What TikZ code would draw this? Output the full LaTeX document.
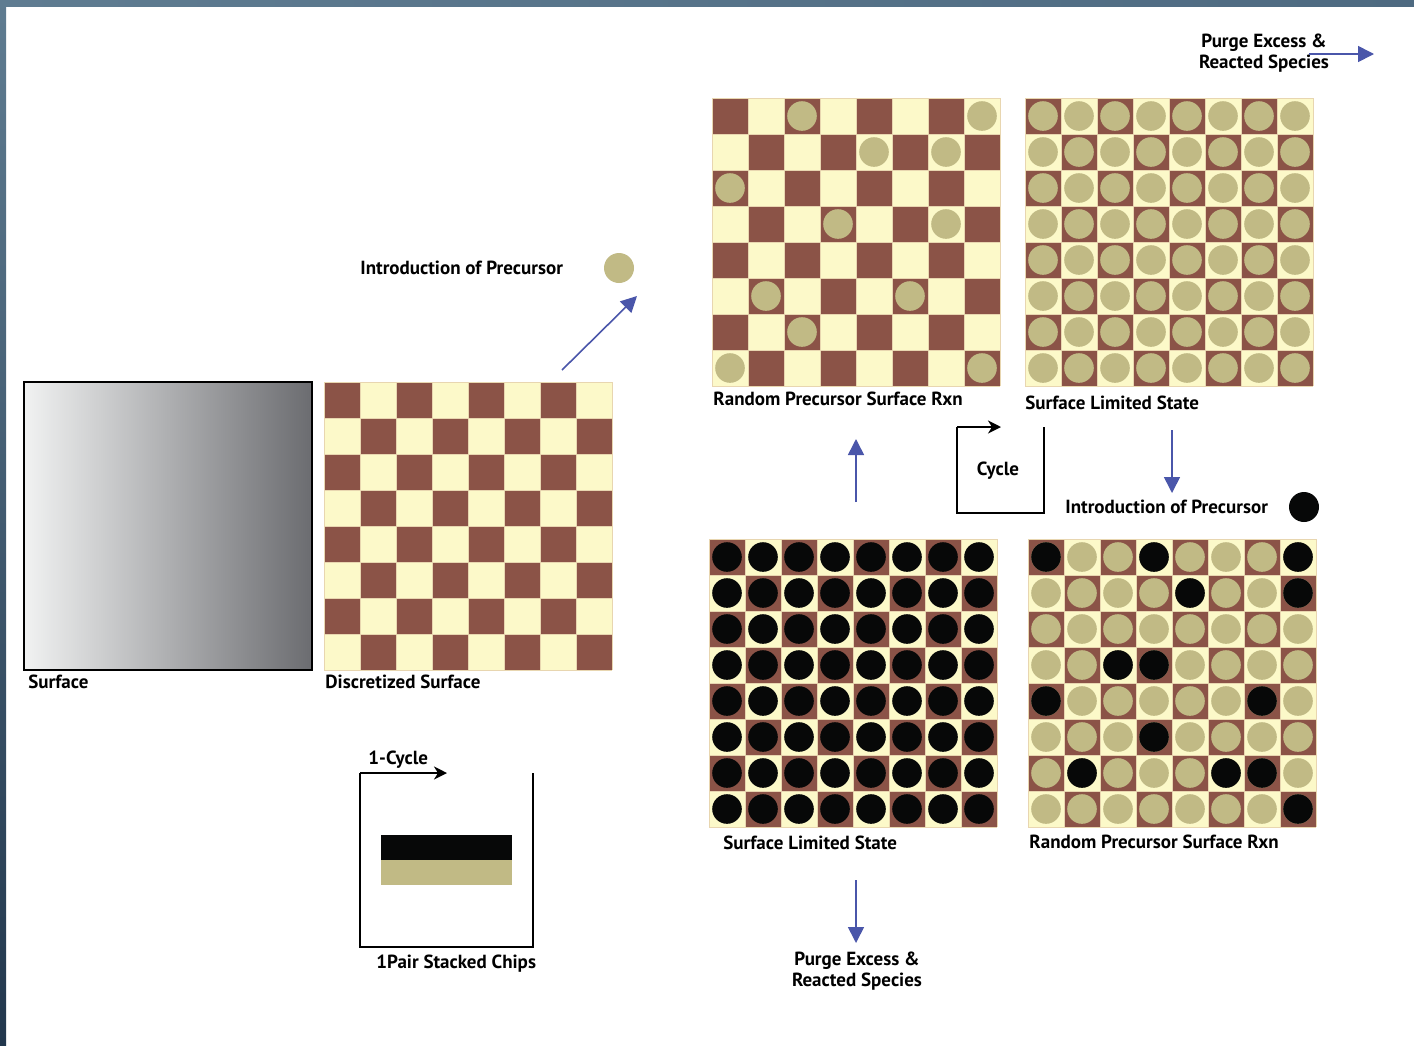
\documentclass[tikz,border=0pt]{standalone}
\usepackage{fontspec}
\setmainfont{PT Sans}
\usetikzlibrary{arrows.meta}
\definecolor{brownc}{HTML}{8B5347}
\definecolor{creamc}{HTML}{FCF9C9}
\definecolor{tanc}{HTML}{C1BA85}
\definecolor{blackc}{HTML}{070808}
\definecolor{arrowc}{HTML}{4A56AA}
\definecolor{gridline}{HTML}{E8D6B0}
\definecolor{frameA}{HTML}{5F7C91}
\definecolor{frameB}{HTML}{4E6A81}
\definecolor{frameC}{HTML}{22374D}
\definecolor{surfL}{HTML}{F1F2F2}
\definecolor{surfR}{HTML}{6B6C70}
\newcommand\boardcells[2]{%
  \foreach \r in {0,...,7}{\foreach \c in {0,...,7}{%
    \pgfmathtruncatemacro\s{\r+\c}%
    \ifodd\s\def\cc{creamc}\else\def\cc{brownc}\fi
    \fill[\cc] ({#1+36*\c},{#2+36*\r}) rectangle ++(36,36);
  }}%
  \foreach \k in {0,...,8}{%
    \draw[gridline,line width=0.35pt] ({#1+36*\k},#2) -- ({#1+36*\k},{#2+288});
    \draw[gridline,line width=0.35pt] (#1,{#2+36*\k}) -- ({#1+288},{#2+36*\k});
  }}
\newcommand\fullchips[3]{%
  \foreach \r in {0,...,7}{\foreach \c in {0,...,7}{%
    \fill[#3] ({#1+36*\c+18},{#2+36*\r+18}) circle[radius=14.8];
  }}}
\newcommand\somechips[4]{%
  \foreach \r/\c in {#4}{%
    \fill[#3] ({#1+36*\c+18},{#2+36*\r+18}) circle[radius=14.8];
  }}
\begin{document}
\begin{tikzpicture}[x=0.5pt,y=-0.5pt,
  lab/.style={font=\bfseries\fontsize{9.5}{10.5}\selectfont,inner sep=0pt,text=black},
  boardbox/.style={minimum width=144pt,minimum height=144pt,inner sep=0pt,anchor=north west},
  bluearrow/.style={arrowc,line width=0.8pt,-{Triangle[length=8pt,width=8pt]}},
  cyclearrow/.style={black,line width=1pt,-{Stealth[length=6.5pt,width=6.5pt,inset=2pt]}},
  cycleline/.style={black,line width=1pt}]
\useasboundingbox (0,0) rectangle (1414,1045);
\fill[white] (0,0) rectangle (1414,1045);
% frame
\shade[left color=frameA,right color=frameB] (0,0) rectangle (1414,6);
\shade[top color=frameA,bottom color=frameC] (0,0) rectangle (6,1045);

% Surface
\node[boardbox] (surf) at (24,382) {};
\shade[left color=surfL,right color=surfR] (24,382) rectangle (312,670);
\draw[black,line width=1pt] (24,382) rectangle (312,670);
\node[lab,anchor=base west] (surflab) at (28,688) {Surface};

% Discretized surface
\node[boardbox] (disc) at (324,382) {};
\boardcells{324}{382}
\node[lab,anchor=base west] (disclab) at (325,688) {Discretized Surface};

% Introduction of precursor (tan)
\node[lab,anchor=base west] (intro1) at (360,274) {Introduction of Precursor};
\node[circle,fill=tanc,minimum size=15pt,inner sep=0pt] (tandot) at (619,268) {};
\coordinate (d1s) at (562,370);
\coordinate (d1e) at (637,296);
\draw[bluearrow] (d1s) -- (d1e);

% Random precursor (top)
\node[boardbox] (rand1) at (712,98) {};
\boardcells{712}{98}
\somechips{712}{98}{tanc}{0/2,0/7,1/4,1/6,2/0,3/3,3/6,5/1,5/5,6/2,7/0,7/7}
\node[lab,anchor=base west] (rand1lab) at (713,405) {Random Precursor Surface Rxn};

% Surface limited (top right)
\node[boardbox] (lim1) at (1025,98) {};
\boardcells{1025}{98}
\fullchips{1025}{98}{tanc}
\node[lab,anchor=base west] (lim1lab) at (1025,409) {Surface Limited State};

% Purge top
\node[lab,align=center,anchor=center] (purge1) at (1264,53) {Purge Excess \&\\Reacted Species};
\coordinate (p1s) at (1309,54);
\coordinate (p1e) at (1374,54);
\draw[bluearrow] (p1s) -- (p1e);

% Cycle box
\coordinate (cyA) at (1044,427);
\coordinate (cyB) at (1044,513);
\coordinate (cyC) at (957,513);
\coordinate (cyD) at (957,427);
\coordinate (cyE) at (1001,427);
\draw[cycleline] (cyA) -- (cyB) -- (cyC) -- (cyD);
\draw[cyclearrow] (cyD) -- (cyE);
\node[lab,anchor=center] (cyclelab) at (998,471) {Cycle};

% Down arrow right
\coordinate (d2s) at (1172,430);
\coordinate (d2e) at (1172,493);
\draw[bluearrow] (d2s) -- (d2e);
\node[lab,anchor=base west] (intro2) at (1065,513) {Introduction of Precursor};
\node[circle,fill=blackc,minimum size=15pt,inner sep=0pt] (blackdot) at (1304,507) {};

% Up arrow
\coordinate (u1s) at (856,502);
\coordinate (u1e) at (856,439);
\draw[bluearrow] (u1s) -- (u1e);

% Surface limited (bottom, black)
\node[boardbox] (lim2) at (709,539) {};
\boardcells{709}{539}
\fullchips{709}{539}{blackc}
\node[lab,anchor=base west] (lim2lab) at (723,849) {Surface Limited State};

% Random precursor (bottom right)
\node[boardbox] (rand2) at (1028,539) {};
\boardcells{1028}{539}
\fullchips{1028}{539}{tanc}
\somechips{1028}{539}{blackc}{0/0,0/3,0/7,1/4,1/7,3/2,3/3,4/0,4/6,5/3,6/1,6/5,6/6,7/7}
\node[lab,anchor=base west] (rand2lab) at (1029,848) {Random Precursor Surface Rxn};

% Purge bottom
\coordinate (d3s) at (856,880);
\coordinate (d3e) at (856,943);
\draw[bluearrow] (d3s) -- (d3e);
\node[lab,align=center,anchor=center] (purge2) at (857,971) {Purge Excess \&\\Reacted Species};

% 1-Cycle box
\coordinate (ocA) at (533,773);
\coordinate (ocB) at (533,947);
\coordinate (ocC) at (360,947);
\coordinate (ocD) at (360,773);
\coordinate (ocE) at (447,773);
\draw[cycleline] (ocA) -- (ocB) -- (ocC) -- (ocD);
\draw[cyclearrow] (ocD) -- (ocE);
\node[lab,anchor=base west] (onecyc) at (368,764) {1-Cycle};
\node[minimum width=65.5pt,minimum height=12.5pt,inner sep=0pt,fill=blackc,anchor=north west] (chipblack) at (381,835) {};
\node[minimum width=65.5pt,minimum height=12.5pt,inner sep=0pt,fill=tanc,anchor=north west] (chiptan) at (381,860) {};
\node[lab,anchor=base west] (pairlab) at (376,968) {1Pair Stacked Chips};
\end{tikzpicture}
\end{document}
